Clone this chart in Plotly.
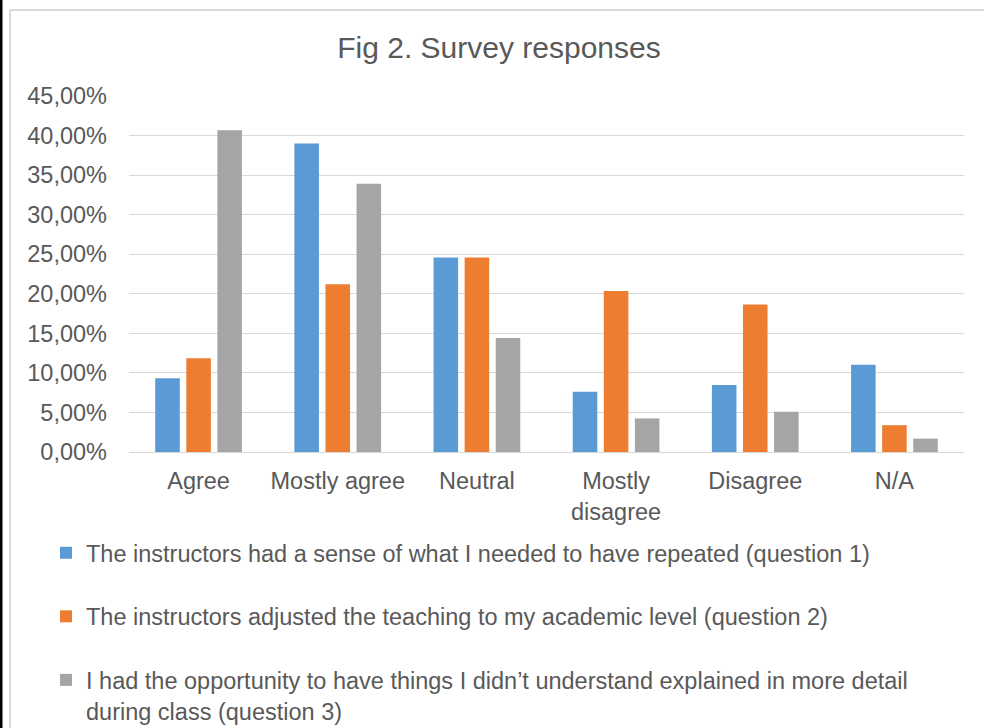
import plotly.graph_objects as go

categories = ["Agree", "Mostly agree", "Neutral", "Mostly<br>disagree", "Disagree", "N/A"]
q1_name = "The instructors had a sense of what I needed to have repeated (question 1)"
q2_name = "The instructors adjusted the teaching to my academic level (question 2)"
q3_name = "I had the opportunity to have things I didn\u2019t understand explained in more detail<br>during class (question 3)"
q1_values = [9.32, 38.98, 24.58, 7.63, 8.47, 11.02]
q2_values = [11.86, 21.19, 24.58, 20.34, 18.64, 3.39]
q3_values = [40.68, 33.90, 14.41, 4.24, 5.08, 1.69]
y_ticks = [0, 5, 10, 15, 20, 25, 30, 35, 40, 45]
y_ticktext = [f"{v:.2f}".replace(".", ",") + "%" for v in y_ticks]

W, H = 984, 728
L, R, T, B = 129, 20, 96, 276
PW, PH = W - L - R, H - T - B

def px(x):
    return (x - L) / PW

def py(y):
    return (H - B - y) / PH

FONT = "Liberation Sans, Arial, sans-serif"
TXT = "#595959"
GRID = "#D9D9D9"

fig = go.Figure()
for name, vals, col, grp in [
    (q1_name, q1_values, "#5B9BD5", "g1"),
    (q2_name, q2_values, "#ED7D31", "g2"),
    (q3_name, q3_values, "#A5A5A5", "g3"),
]:
    fig.add_trace(go.Bar(x=categories, y=vals, name=name, marker_color=col,
                         legendgroup=grp, marker_line_width=0))

fig.update_layout(
    width=W, height=H,
    margin=dict(l=L, r=R, t=T, b=B, autoexpand=False),
    paper_bgcolor="white", plot_bgcolor="white",
    barmode="group", bargap=0.33, bargroupgap=0.21,
    font=dict(family=FONT, color=TXT, size=23.5),
    title=dict(text="Fig 2. Survey responses", x=px(499), xref="paper", xanchor="center",
               y=1 - 47 / H, yref="container", yanchor="middle",
               font=dict(size=30, color=TXT, family=FONT)),
    showlegend=True,
    legend=dict(x=px(46), y=py(531), xanchor="left", yanchor="top",
                orientation="v", tracegroupgap=30, valign="top",
                font=dict(size=23.5, color=TXT, family=FONT),
                itemwidth=30, bgcolor="rgba(0,0,0,0)"),
)
fig.update_yaxes(range=[0, 45], tickvals=y_ticks, ticktext=y_ticktext,
                 showgrid=True, gridcolor=GRID, gridwidth=1.3, zeroline=False,
                 showline=False, ticks="", ticklabelstandoff=21, fixedrange=True,
                 automargin=False)
fig.update_xaxes(showline=True, linecolor=GRID, linewidth=1.3, ticks="",
                 ticklabelstandoff=8, fixedrange=True, automargin=False)

fig.add_shape(type="rect", xref="paper", yref="paper", x0=px(0), x1=px(2.5),
              y0=py(H), y1=py(0), fillcolor="black", line_width=0, layer="above")
fig.add_shape(type="line", xref="paper", yref="paper", x0=px(10), x1=px(10),
              y0=py(H), y1=py(10), line=dict(color=GRID, width=2))
fig.add_shape(type="line", xref="paper", yref="paper", x0=px(10), x1=px(W),
              y0=py(10), y1=py(10), line=dict(color=GRID, width=2))

fig.write_html("out.html")
